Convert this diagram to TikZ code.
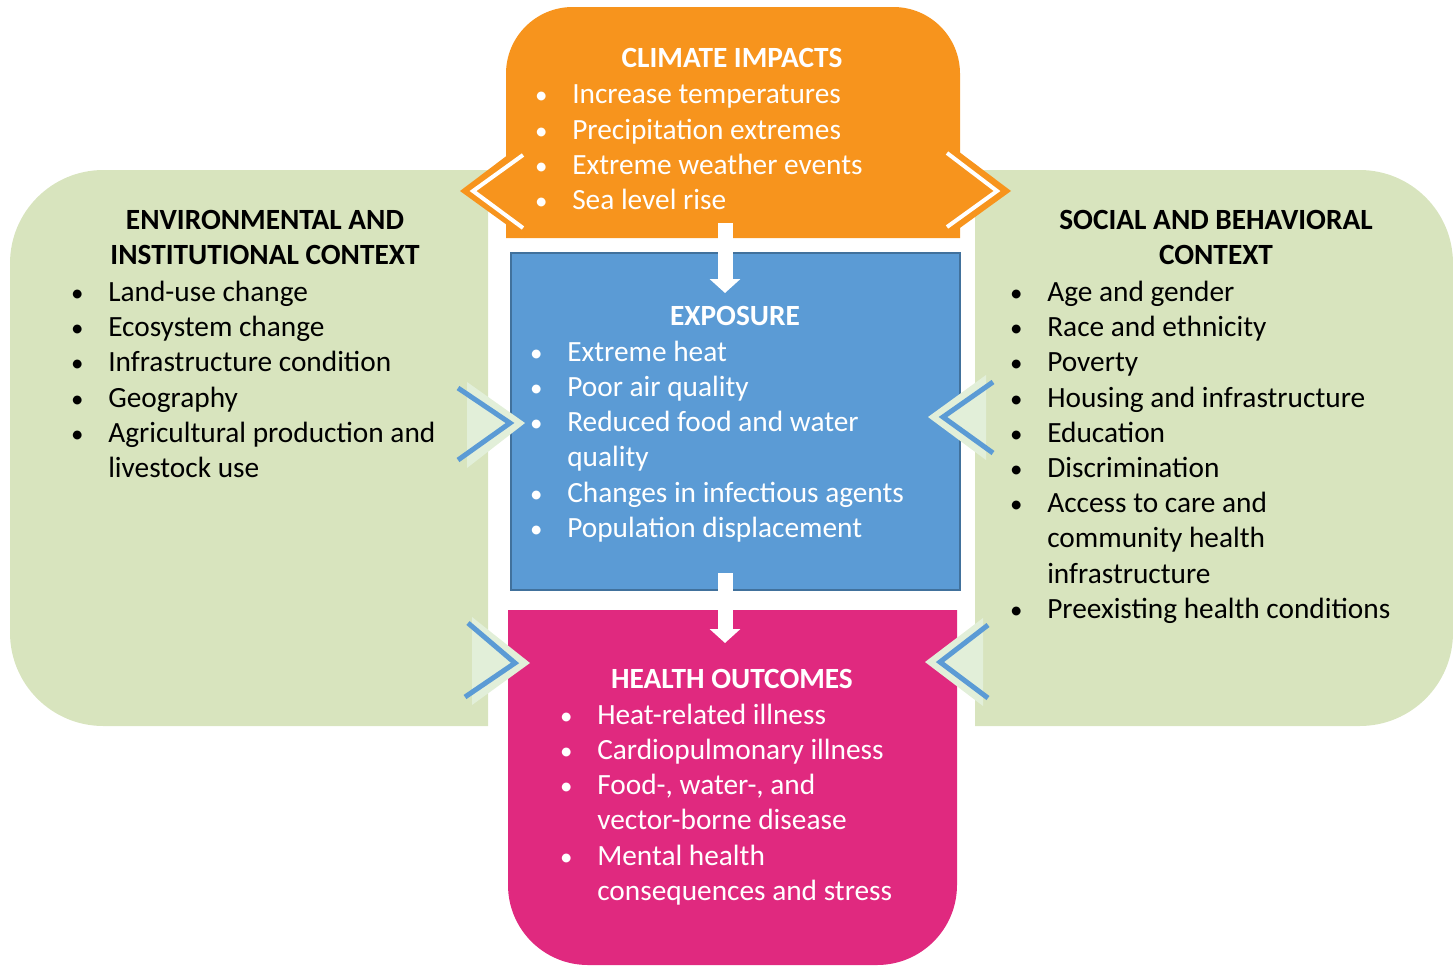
\documentclass[tikz,border=0pt]{standalone}
\usepackage{fontspec}
\setmainfont{Carlito}
\usetikzlibrary{positioning, calc, arrows.meta}

\definecolor{climorange}{HTML}{F7941D}
\definecolor{expblue}{HTML}{5B9BD5}
\definecolor{expborder}{HTML}{41719C}
\definecolor{hlthpink}{HTML}{E0297F}
\definecolor{ctxgreen}{HTML}{D8E4BE}
\definecolor{palegreen}{HTML}{E2EFD9}

\newcommand{\bitem}{\strut\makebox[0pt][c]{\scalebox{0.85}{\textbullet}}\hspace{23.25pt}}
\newcommand{\bcont}{\strut\hspace*{23.25pt}}

\tikzset{
    head/.style={font=\bfseries\fontsize{22}{26.25}\selectfont, align=center, inner sep=0pt},
    blist/.style={font=\fontsize{22}{26.4}\selectfont, align=left, anchor=north west, inner sep=0pt},
    chev/.style={line width=3.75pt, draw=expblue},
    wchev/.style={line width=3pt, draw=white},
    flow/.style={draw=white, line width=11.25pt, -{Triangle[width=22.5pt, length=10.5pt]}},
}

\begin{document}
\begin{tikzpicture}[x=0.75pt, y=-0.75pt]
    \useasboundingbox (0,0) rectangle (1453,965);

    % context panels
    \fill[ctxgreen, rounded corners=70] (488,170) -- (10,170) -- (10,726) -- (488,726);
    \fill[ctxgreen, rounded corners=70] (975,170) -- (1453,170) -- (1453,726) -- (975,726);

    % middle column
    \fill[climorange, rounded corners=50] (506,238) -- (506,7) -- (960,7) -- (960,238);
    \fill[expblue, draw=expborder, line width=1.5pt] (511,253) rectangle (960,590);
    \fill[hlthpink, rounded corners=60] (508,610) -- (508,965) -- (957,965) -- (957,610);

    % chevrons
    \fill[climorange] (460,191) -- (525,142) -- (525,238) -- cycle;
    \fill[climorange] (1011,191) -- (946,142) -- (946,238) -- cycle;
    \draw[wchev] (523,155) -- (473,191) -- (523,228);
    \draw[wchev] (947,153) -- (997,191) -- (947,227);

    \fill[palegreen] (525,423) -- (467,382) -- (467,468) -- cycle;
    \fill[palegreen] (928,417) -- (986,375) -- (986,460) -- cycle;
    \fill[palegreen] (530,663) -- (472,617) -- (472,705) -- cycle;
    \fill[palegreen] (925,662) -- (983,618) -- (983,706) -- cycle;
    \draw[chev] (458,388) -- (510,423) -- (458,460);
    \draw[chev] (993,382) -- (943,417) -- (993,453);
    \draw[chev] (468,623) -- (515,663) -- (465,697);
    \draw[chev] (988,625) -- (940,662) -- (988,698);

    % flow arrows
    \coordinate (climout) at (725,223);
    \coordinate (expin) at (725,293);
    \coordinate (expout) at (725,573);
    \coordinate (hlthin) at (725,643);
    \draw[flow] (climout) -- (expin);
    \draw[flow] (expout) -- (hlthin);

    % texts
    \node[head, white, anchor=base] (climhead) at (732,67) {CLIMATE IMPACTS};
    \node[blist, white] (climlist) at (541,79) {%
        \bitem Increase temperatures\\
        \bitem Precipitation extremes\\
        \bitem Extreme weather events\\
        \bitem Sea level rise};

    \node[head, white, anchor=base] (exphead) at (735,325) {EXPOSURE};
    \node[blist, white] (explist) at (536,336.4) {%
        \bitem Extreme heat\\
        \bitem Poor air quality\\
        \bitem Reduced food and water\\
        \bcont quality\\
        \bitem Changes in infectious agents\\
        \bitem Population displacement};

    \node[head, white, anchor=base] (hlthhead) at (732,688) {HEALTH OUTCOMES};
    \node[blist, white] (hlthlist) at (566,699.4) {%
        \bitem Heat-related illness\\
        \bitem Cardiopulmonary illness\\
        \bitem Food-, water-, and\\
        \bcont vector-borne disease\\
        \bitem Mental health\\
        \bcont consequences and stress};

    \node[head, anchor=north] (envhead) at (265,204.5) {\strut ENVIRONMENTAL AND\\INSTITUTIONAL CONTEXT};
    \node[blist] (envlist) at (77,276.5) {%
        \bitem Land-use change\\
        \bitem Ecosystem change\\
        \bitem Infrastructure condition\\
        \bitem Geography\\
        \bitem Agricultural production and\\
        \bcont livestock use};

    \node[head, anchor=north] (sochead) at (1216,204.5) {\strut SOCIAL AND BEHAVIORAL\\CONTEXT};
    \node[blist] (soclist) at (1016,276.5) {%
        \bitem Age and gender\\
        \bitem Race and ethnicity\\
        \bitem Poverty\\
        \bitem Housing and infrastructure\\
        \bitem Education\\
        \bitem Discrimination\\
        \bitem Access to care and\\
        \bcont community health\\
        \bcont infrastructure\\
        \bitem Preexisting health conditions};
\end{tikzpicture}
\end{document}
